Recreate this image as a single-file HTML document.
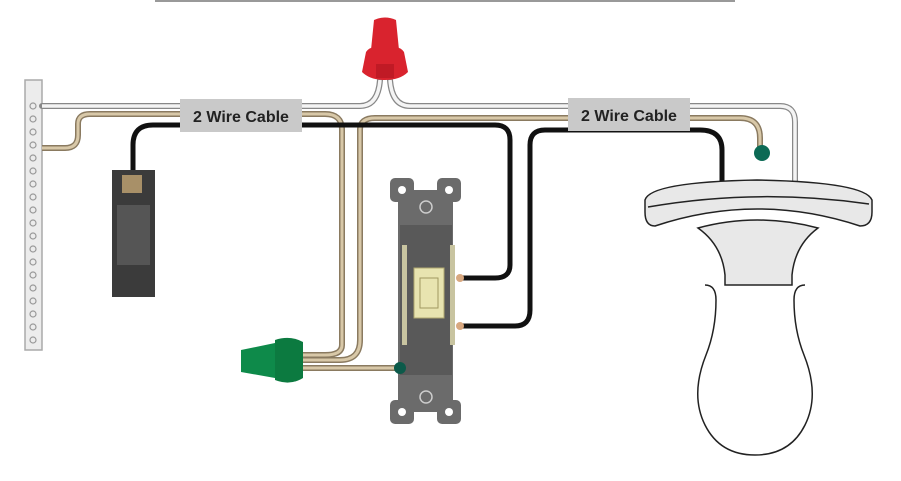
<!DOCTYPE html>
<html><head><meta charset="utf-8"><style>html,body{margin:0;padding:0;background:#fff}svg{display:block}</style></head>
<body>
<svg width="901" height="481" viewBox="0 0 901 481" xmlns="http://www.w3.org/2000/svg">
<rect width="901" height="481" fill="#fff"/>
<rect x="155" y="0" width="580" height="2" fill="#999"/>
<!-- panel bar -->
<rect x="25" y="80" width="17" height="270" fill="#ececec" stroke="#aaa" stroke-width="1.5"/>
<g fill="none" stroke="#999" stroke-width="1.2">
<circle cx="33" cy="106" r="3"/><circle cx="33" cy="119" r="3"/><circle cx="33" cy="132" r="3"/><circle cx="33" cy="145" r="3"/><circle cx="33" cy="158" r="3"/><circle cx="33" cy="171" r="3"/><circle cx="33" cy="184" r="3"/><circle cx="33" cy="197" r="3"/><circle cx="33" cy="210" r="3"/><circle cx="33" cy="223" r="3"/><circle cx="33" cy="236" r="3"/><circle cx="33" cy="249" r="3"/><circle cx="33" cy="262" r="3"/><circle cx="33" cy="275" r="3"/><circle cx="33" cy="288" r="3"/><circle cx="33" cy="301" r="3"/><circle cx="33" cy="314" r="3"/><circle cx="33" cy="327" r="3"/><circle cx="33" cy="340" r="3"/>
</g>
<!-- white wires -->
<g fill="none" stroke="#888" stroke-width="6" stroke-linecap="round">
<path d="M42 106 H360 Q378 106 380 80"/>
<path d="M390 80 Q392 106 410 106 H780 Q795 106 795 122 V190"/>
</g>
<g fill="none" stroke="#f4f4f4" stroke-width="3.5">
<path d="M42 106 H360 Q378 106 380 80"/>
<path d="M390 80 Q392 106 410 106 H780 Q795 106 795 122 V190"/>
</g>
<!-- tan bare wires -->
<g fill="none" stroke="#8a7a60" stroke-width="6">
<path d="M42 148 H65 Q78 148 78 135 V124 Q78 114 90 114 H325 Q342 114 342 130 V345 Q342 355 325 355 H300"/>
<path d="M300 360 H340 Q360 360 360 340 V130 Q360 118 375 118 H740 Q760 118 760 138 V150"/>
<path d="M300 368 H398"/>
</g>
<g fill="none" stroke="#d8c8a8" stroke-width="3">
<path d="M42 148 H65 Q78 148 78 135 V124 Q78 114 90 114 H325 Q342 114 342 130 V345 Q342 355 325 355 H300"/>
<path d="M300 360 H340 Q360 360 360 340 V130 Q360 118 375 118 H740 Q760 118 760 138 V150"/>
<path d="M300 368 H398"/>
</g>
<!-- black wires -->
<g fill="none" stroke="#111" stroke-width="5">
<path d="M133 175 V145 Q133 125 153 125 H495 Q510 125 510 140 V265 Q510 278 495 278 H460"/>
<path d="M460 326 H515 Q530 326 530 310 V145 Q530 130 545 130 H700 Q722 130 722 150 V190"/>
</g>
<!-- cable labels -->
<rect x="180" y="99" width="122" height="33" fill="#c9c9c9"/>
<text x="241" y="122" text-anchor="middle" font-family="Liberation Sans, sans-serif" font-weight="bold" font-size="16" fill="#222">2 Wire Cable</text>
<rect x="568" y="98" width="122" height="33" fill="#c9c9c9"/>
<text x="629" y="121" text-anchor="middle" font-family="Liberation Sans, sans-serif" font-weight="bold" font-size="16" fill="#222">2 Wire Cable</text>
<!-- red connector -->
<path d="M374 20 Q385 15 396 20 L399 50 H371 Z" fill="#d9232e"/>
<path d="M366 52 Q370 46 377 48 H393 Q400 46 404 52 L408 72 Q400 80 385 80 Q370 80 362 72 Z" fill="#d9232e"/>
<rect x="376" y="64" width="18" height="14" fill="#c01a25"/>
<!-- green dot -->
<circle cx="762" cy="153" r="8" fill="#0c6a55"/>
<!-- breaker -->
<rect x="112" y="170" width="43" height="127" fill="#3b3b3b"/>
<rect x="117" y="205" width="33" height="60" fill="#555"/>
<rect x="122" y="175" width="20" height="18" fill="#a89068"/>
<!-- switch -->
<g fill="#6b6b6b">
<rect x="390" y="178" width="24" height="24" rx="5"/><rect x="437" y="178" width="24" height="24" rx="5"/>
<rect x="390" y="400" width="24" height="24" rx="5"/><rect x="437" y="400" width="24" height="24" rx="5"/>
<rect x="398" y="190" width="55" height="222"/>
</g>
<circle cx="402" cy="190" r="4" fill="#fff"/><circle cx="449" cy="190" r="4" fill="#fff"/>
<circle cx="402" cy="412" r="4" fill="#fff"/><circle cx="449" cy="412" r="4" fill="#fff"/>
<circle cx="426" cy="207" r="6" fill="none" stroke="#ccc" stroke-width="1.5"/>
<circle cx="426" cy="397" r="6" fill="none" stroke="#ccc" stroke-width="1.5"/>
<rect x="400" y="225" width="52" height="150" fill="#595959"/>
<rect x="402" y="245" width="5" height="100" fill="#c8c4a0"/><rect x="450" y="245" width="5" height="100" fill="#c8c4a0"/>
<rect x="414" y="268" width="30" height="50" fill="#e8e4b0" stroke="#b0a870"/>
<rect x="420" y="278" width="18" height="30" fill="none" stroke="#a09860"/>
<circle cx="460" cy="278" r="4" fill="#d8a880"/><circle cx="460" cy="326" r="4" fill="#d8a880"/>
<circle cx="400" cy="368" r="6" fill="#0c5a4a"/>
<!-- green connector -->
<path d="M241 350 L275 343 V378 L241 372 Z" fill="#0e8a4a"/>
<path d="M275 340 Q290 335 303 342 V378 Q290 386 275 380 Z" fill="#0c7a40"/>
<!-- bulb -->
<path d="M705 285 Q716 285 716 300 Q716 330 706 355 Q690 395 705 425 Q720 455 755 455 Q790 455 805 425 Q820 395 804 355 Q794 330 794 300 Q794 285 805 285" fill="#fff" stroke="#222" stroke-width="1.5"/>
<path d="M698 228 Q757 212 818 228 Q795 245 792 275 V285 H725 V275 Q722 245 698 228 Z" fill="#e8e8e8" stroke="#222" stroke-width="1.5"/>
<path d="M645 200 Q650 182 757 180 Q865 182 872 200 V212 Q872 226 860 226 Q757 192 655 226 Q645 226 645 212 Z" fill="#e8e8e8" stroke="#222" stroke-width="1.5"/>
<path d="M648 207 Q757 188 869 204" fill="none" stroke="#222" stroke-width="1.5"/>
</svg>
</body></html>
